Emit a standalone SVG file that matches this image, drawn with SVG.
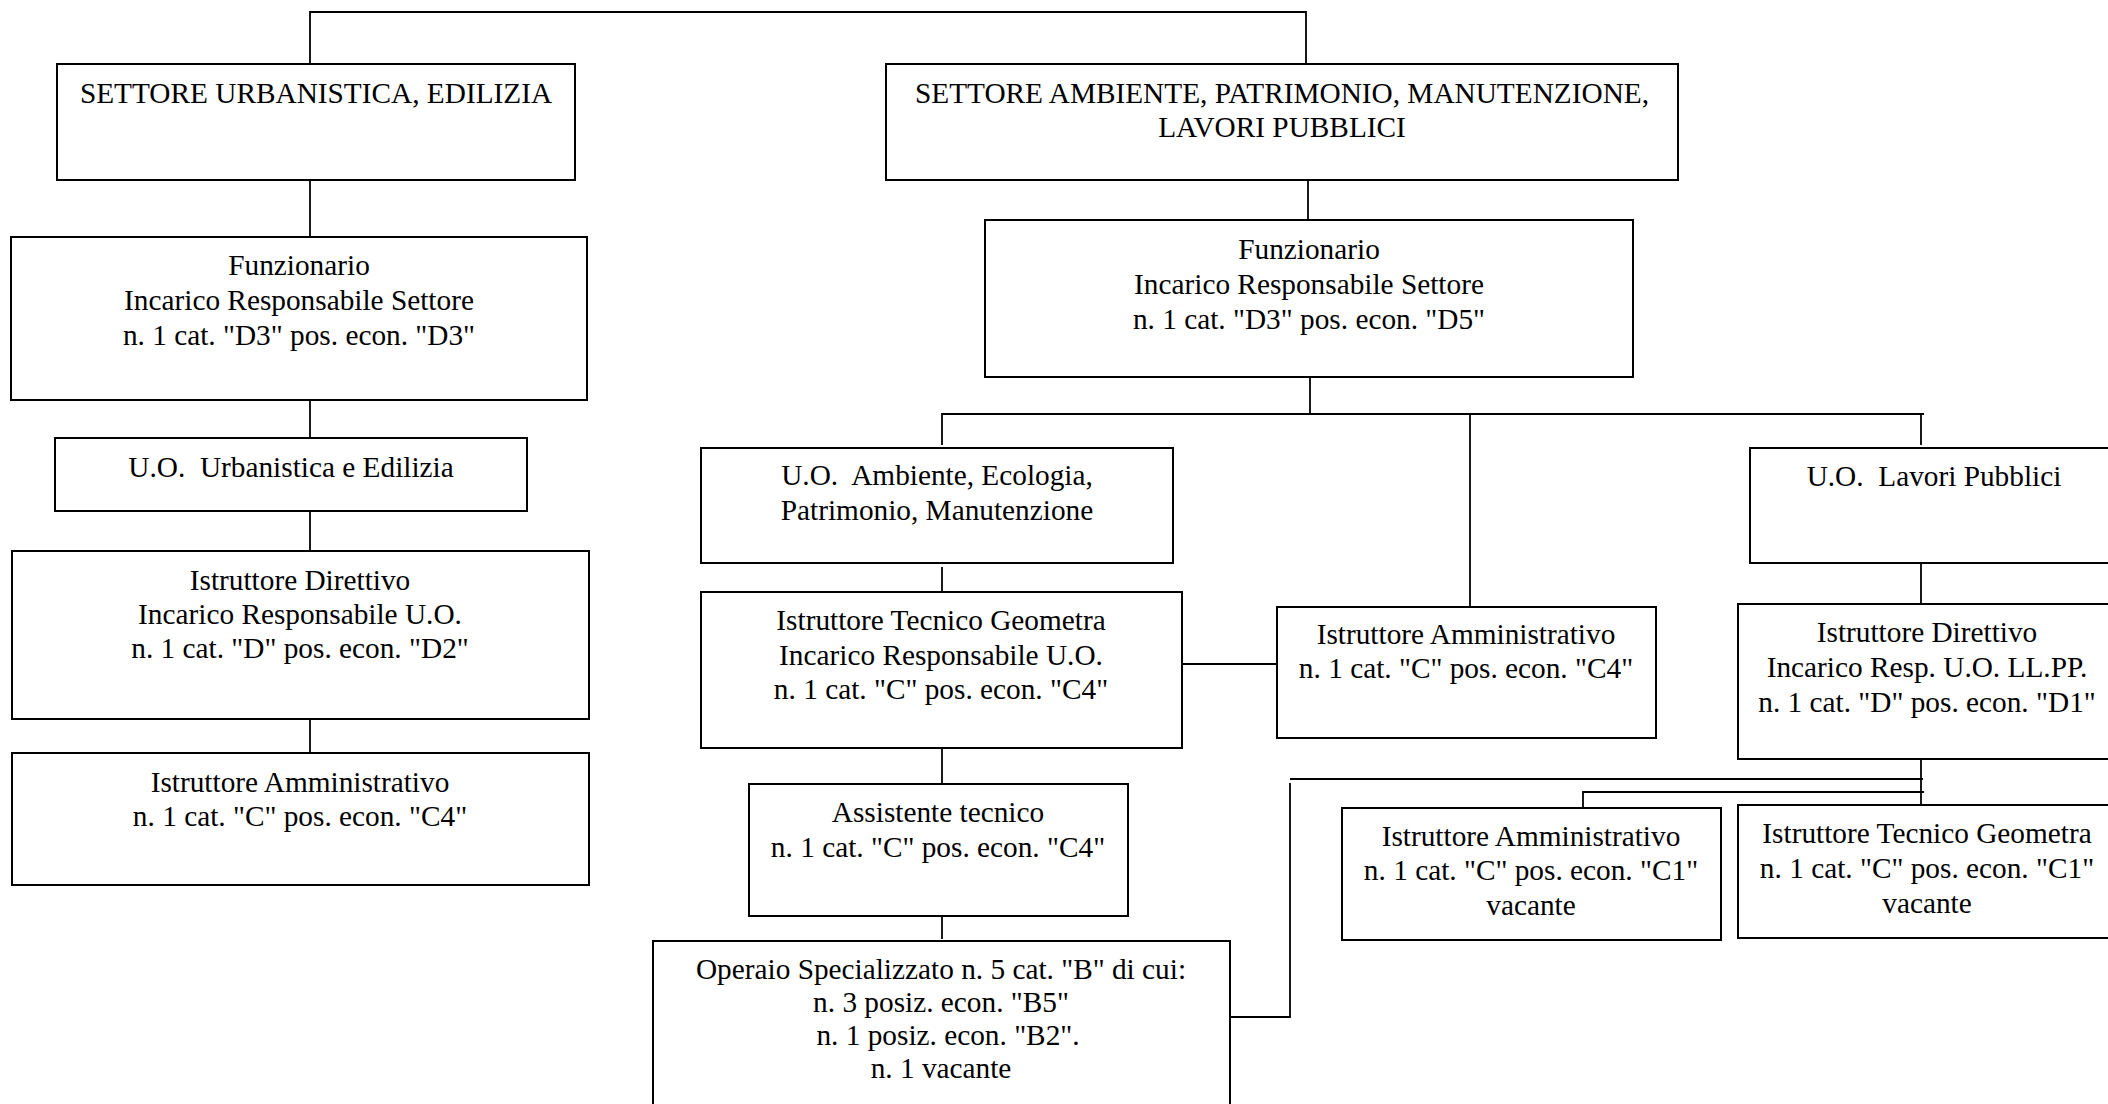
<svg xmlns="http://www.w3.org/2000/svg" width="2108" height="1104" viewBox="0 0 2108 1104">
<style>
.box{fill:#fff;stroke:#000;stroke-width:2}
.ln{fill:none;stroke:#000;stroke-width:1.8}
text{font-family:"Liberation Serif","Times New Roman",serif;font-size:29.3px;fill:#000;text-anchor:middle;white-space:pre}
</style>
<rect width="2108" height="1104" fill="#fff"/>
<g id="connectors">
<polyline class="ln" points="310,64 310,12 1306,12 1306,64"/>
<line class="ln" x1="310" y1="180" x2="310" y2="237"/>
<line class="ln" x1="310" y1="400" x2="310" y2="438"/>
<line class="ln" x1="310" y1="511" x2="310" y2="551"/>
<line class="ln" x1="310" y1="719" x2="310" y2="753"/>
<line class="ln" x1="1308" y1="180" x2="1308" y2="220"/>
<line class="ln" x1="1310" y1="377" x2="1310" y2="414"/>
<polyline class="ln" points="942,445 942,414 1924,414"/>
<line class="ln" x1="1921" y1="414" x2="1921" y2="445"/>
<line class="ln" x1="1470" y1="414" x2="1470" y2="607"/>
<line class="ln" x1="942" y1="567" x2="942" y2="592"/>
<line class="ln" x1="1182" y1="664" x2="1277" y2="664"/>
<line class="ln" x1="942" y1="748" x2="942" y2="784"/>
<line class="ln" x1="942" y1="916" x2="942" y2="939"/>
<line class="ln" x1="1921" y1="563" x2="1921" y2="604"/>
<line class="ln" x1="1921" y1="759" x2="1921" y2="805"/>
<polyline class="ln" points="1230,1017 1290,1017 1290,783"/>
<line class="ln" x1="1290" y1="779" x2="1923" y2="779"/>
<polyline class="ln" points="1583,808 1583,792 1924,792"/>
</g>
<g id="settore-urbanistica">
<rect class="box" x="57" y="64" width="518" height="116"/>
<text x="316" y="103">SETTORE URBANISTICA, EDILIZIA</text>
</g>
<g id="funzionario-urb">
<rect class="box" x="11" y="237" width="576" height="163"/>
<text x="299" y="275">Funzionario</text>
<text x="299" y="310">Incarico Responsabile Settore</text>
<text x="299" y="345">n. 1 cat. "D3" pos. econ. "D3"</text>
</g>
<g id="uo-urbanistica">
<rect class="box" x="55" y="438" width="472" height="73"/>
<text x="291" y="477">U.O.  Urbanistica e Edilizia</text>
</g>
<g id="istruttore-direttivo-urb">
<rect class="box" x="12" y="551" width="577" height="168"/>
<text x="300" y="590">Istruttore Direttivo</text>
<text x="300" y="624">Incarico Responsabile U.O.</text>
<text x="300" y="658">n. 1 cat. "D" pos. econ. "D2"</text>
</g>
<g id="istruttore-amm-urb">
<rect class="box" x="12" y="753" width="577" height="132"/>
<text x="300" y="792">Istruttore Amministrativo</text>
<text x="300" y="826">n. 1 cat. "C" pos. econ. "C4"</text>
</g>
<g id="settore-ambiente">
<rect class="box" x="886" y="64" width="792" height="116"/>
<text x="1282" y="103">SETTORE AMBIENTE, PATRIMONIO, MANUTENZIONE,</text>
<text x="1282" y="137">LAVORI PUBBLICI</text>
</g>
<g id="funzionario-amb">
<rect class="box" x="985" y="220" width="648" height="157"/>
<text x="1309" y="259">Funzionario</text>
<text x="1309" y="294">Incarico Responsabile Settore</text>
<text x="1309" y="329">n. 1 cat. "D3" pos. econ. "D5"</text>
</g>
<g id="uo-ambiente">
<rect class="box" x="701" y="448" width="472" height="115"/>
<text x="937" y="485">U.O.  Ambiente, Ecologia,</text>
<text x="937" y="520">Patrimonio, Manutenzione</text>
</g>
<g id="istruttore-tecnico-amb">
<rect class="box" x="701" y="592" width="481" height="156"/>
<text x="941" y="630">Istruttore Tecnico Geometra</text>
<text x="941" y="665">Incarico Responsabile U.O.</text>
<text x="941" y="699">n. 1 cat. "C" pos. econ. "C4"</text>
</g>
<g id="istruttore-amm-amb">
<rect class="box" x="1277" y="607" width="379" height="131"/>
<text x="1466" y="644">Istruttore Amministrativo</text>
<text x="1466" y="678">n. 1 cat. "C" pos. econ. "C4"</text>
</g>
<g id="assistente-tecnico">
<rect class="box" x="749" y="784" width="379" height="132"/>
<text x="938" y="822">Assistente tecnico</text>
<text x="938" y="857">n. 1 cat. "C" pos. econ. "C4"</text>
</g>
<g id="operaio">
<rect class="box" x="653" y="941" width="577" height="175"/>
<text x="941" y="979">Operaio Specializzato n. 5 cat. "B" di cui:</text>
<text x="941" y="1012">n. 3 posiz. econ. "B5"</text>
<text x="948" y="1045">n. 1 posiz. econ. "B2".</text>
<text x="941" y="1078">n. 1 vacante</text>
</g>
<g id="uo-lavori-pubblici">
<rect class="box" x="1750" y="448" width="370" height="115"/>
<text x="1934" y="486">U.O.  Lavori Pubblici</text>
</g>
<g id="istruttore-direttivo-llpp">
<rect class="box" x="1738" y="604" width="382" height="155"/>
<text x="1927" y="642">Istruttore Direttivo</text>
<text x="1927" y="677">Incarico Resp. U.O. LL.PP.</text>
<text x="1927" y="712">n. 1 cat. "D" pos. econ. "D1"</text>
</g>
<g id="istruttore-amm-llpp">
<rect class="box" x="1342" y="808" width="379" height="132"/>
<text x="1531" y="846">Istruttore Amministrativo</text>
<text x="1531" y="880">n. 1 cat. "C" pos. econ. "C1"</text>
<text x="1531" y="915">vacante</text>
</g>
<g id="istruttore-tecnico-llpp">
<rect class="box" x="1738" y="805" width="382" height="133"/>
<text x="1927" y="843">Istruttore Tecnico Geometra</text>
<text x="1927" y="878">n. 1 cat. "C" pos. econ. "C1"</text>
<text x="1927" y="913">vacante</text>
</g>
</svg>
